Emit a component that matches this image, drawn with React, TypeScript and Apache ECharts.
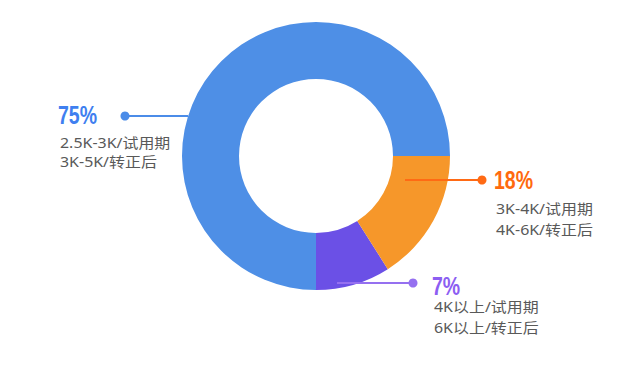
import React, { useEffect, useRef } from "react";
import * as echarts from "echarts";

const categories = ["2.5K-3K", "4K以上", "3K-4K"];
// slice sizes as drawn in the reference ring
const values = [75, 9, 16];
// percentages as printed in the reference annotations
const percentLabels = ["75%", "7%", "18%"];
const sliceColors = ["#4e8fe6", "#6b50e6", "#f6972a"];
const accentColors = ["#3f7ff0", "#8c5ef2", "#ff6a0e"];
const lineColors = ["#4b8ce8", "#9570f0", "#ff6a14"];
const trialLabels = ["2.5K-3K/试用期", "4K以上/试用期", "3K-4K/试用期"];
const regularLabels = ["3K-5K/转正后", "6K以上/转正后", "4K-6K/转正后"];

// annotation layout (line start, dot, text block)
const annot = [
  { lx1: 188, lx2: 125, ly: 116, tx: 58, py: 116, t1: 142, t2: 161 },
  { lx1: 337, lx2: 413, ly: 283, tx: 432, py: 287, t1: 306, t2: 327 },
  { lx1: 405, lx2: 482, ly: 180, tx: 494, py: 181, t1: 208, t2: 229 },
];

export default function App() {
  const ref = useRef<HTMLDivElement>(null);
  useEffect(() => {
    if (!ref.current) return;
    const chart = echarts.init(ref.current, undefined, { renderer: "svg" });
    const graphics: any[] = [];
    annot.forEach((a, i) => {
      graphics.push({
        type: "line",
        z: 100,
        shape: { x1: a.lx1, y1: a.ly, x2: a.lx2, y2: a.ly },
        style: { stroke: lineColors[i], lineWidth: 2 },
      });
      graphics.push({
        type: "circle",
        z: 100,
        shape: { cx: a.lx2, cy: a.ly, r: 4.5 },
        style: { fill: lineColors[i] },
      });
      graphics.push({
        type: "text",
        z: 100,
        x: a.tx,
        y: a.py,
        scaleX: 0.78,
        style: {
          text: percentLabels[i],
          fill: accentColors[i],
          fontSize: 25,
          fontWeight: "bold",
          fontFamily: "Liberation Sans",
          verticalAlign: "middle",
        },
      });
      [trialLabels[i], regularLabels[i]].forEach((t, k) => {
        graphics.push({
          type: "text",
          z: 100,
          x: a.tx + 2,
          y: k === 0 ? a.t1 : a.t2,
          scaleX: 1.14,
          style: {
            text: t,
            fill: "#595959",
            fontSize: 14,
            fontFamily: "Noto Sans, Noto Sans CJK SC",
            verticalAlign: "middle",
          },
        });
      });
    });
    chart.setOption({
      animation: false,
      backgroundColor: "#ffffff",
      series: [
        {
          type: "pie",
          center: [316, 156],
          radius: [77, 134],
          startAngle: 0,
          clockwise: false,
          label: { show: false },
          labelLine: { show: false },
          emphasis: { disabled: true },
          data: categories.map((c, i) => ({
            name: c,
            value: values[i],
            itemStyle: { color: sliceColors[i] },
          })),
        },
      ],
      graphic: graphics,
    });
    return () => chart.dispose();
  }, []);
  return (
    <div
      ref={ref}
      style={{ position: "fixed", left: 0, top: 0, width: 640, height: 370 }}
    />
  );
}
